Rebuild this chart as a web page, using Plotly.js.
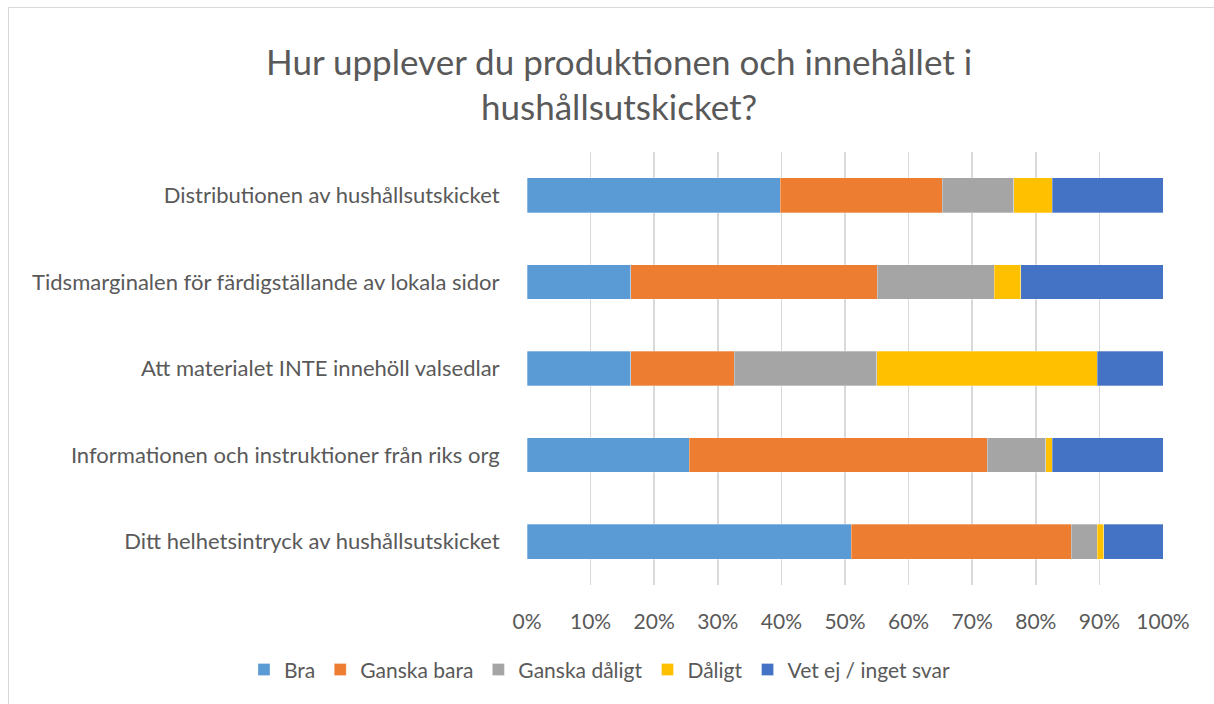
<!DOCTYPE html>
<html>
<head>
<meta charset="utf-8">
<script src="https://cdn.plot.ly/plotly-3.0.1.min.js"></script>
<style>
html,body{margin:0;padding:0;background:#fff;}
#wrap{position:relative;width:1214px;height:704px;}
#chart{position:absolute;left:0;top:0;width:1214px;height:704px;}
#frame{position:absolute;left:8px;top:7px;width:1230px;height:720px;border-top:1px solid #d9d9d9;border-left:1px solid #d9d9d9;pointer-events:none;}
</style>
</head>
<body>
<div id="wrap"><div id="chart"></div><div id="frame"></div></div>
<script>
const categories = [
  "Distributionen av hushållsutskicket",
  "Tidsmarginalen för färdigställande av lokala sidor",
  "Att materialet INTE innehöll valsedlar",
  "Informationen och instruktioner från riks org",
  "Ditt helhetsintryck av hushållsutskicket"
];
const seriesNames = ["Bra", "Ganska bara", "Ganska dåligt", "Dåligt", "Vet ej / inget svar"];
const bra          = [39.8, 16.3, 16.3, 25.5, 51.0];
const ganskaBara   = [25.5, 38.8, 16.3, 46.9, 34.6];
const ganskaDaligt = [11.2, 18.4, 22.4,  9.2,  4.1];
const daligt       = [ 6.1,  4.1, 34.7,  1.0,  1.0];
const vetEj        = [17.4, 22.4, 10.3, 17.4,  9.3];
const tickValues = [0,10,20,30,40,50,60,70,80,90,100];
const tickLabels = ["0%","10%","20%","30%","40%","50%","60%","70%","80%","90%","100%"];

const colors = ["#5B9BD5", "#ED7D31", "#A5A5A5", "#FFC000", "#4472C4"];
const seriesValues = [bra, ganskaBara, ganskaDaligt, daligt, vetEj];

const FONT = "Lato, 'Open Sans', sans-serif";
const traces = seriesValues.map((vals, i) => ({
  type: "bar",
  orientation: "h",
  name: seriesNames[i],
  y: categories,
  x: vals,
  marker: {color: colors[i], line: {color: "rgba(255,255,255,0.6)", width: 0.5}},
  hoverinfo: "name+x"
}));

const layout = {
  width: 1214, height: 704,
  paper_bgcolor: "#fff", plot_bgcolor: "#fff",
  barmode: "stack",
  bargap: 0.6,
  margin: {l: 527, r: 51, t: 152, b: 119},
  font: {family: FONT, color: "#595959"},
  title: {
    text: "Hur upplever du produktionen och innehållet i<br>hushållsutskicket?",
    font: {family: FONT, size: 35, color: "#595959"},
    x: 0.51, xanchor: "center", xref: "container",
    y: 0.8935, yanchor: "middle", yref: "container"
  },
  xaxis: {
    range: [0, 100],
    tickvals: tickValues, ticktext: tickLabels,
    showgrid: true, gridcolor: "#d9d9d9", gridwidth: 1.5,
    zeroline: false, showline: false,
    ticks: "outside", ticklen: 18, tickcolor: "rgba(0,0,0,0)",
    tickfont: {family: FONT, size: 21, color: "#595959"},
    fixedrange: true
  },
  yaxis: {
    type: "category",
    categoryorder: "array", categoryarray: categories,
    autorange: "reversed",
    showgrid: false, zeroline: false, showline: false,
    ticks: "outside", ticklen: 22, tickcolor: "rgba(0,0,0,0)",
    tickfont: {family: FONT, size: 22, color: "#595959"},
    fixedrange: true
  },
  legend: {
    orientation: "h",
    x: -0.445, xanchor: "left", xref: "paper",
    y: -0.196, yanchor: "middle", yref: "paper",
    font: {family: FONT, size: 21, color: "#595959"},
    traceorder: "normal",
    itemwidth: 30,
    bgcolor: "rgba(0,0,0,0)"
  },
  showlegend: true
};

Plotly.newPlot("chart", traces, layout, {displayModeBar: false, staticPlot: true});
</script>
</body>
</html>
